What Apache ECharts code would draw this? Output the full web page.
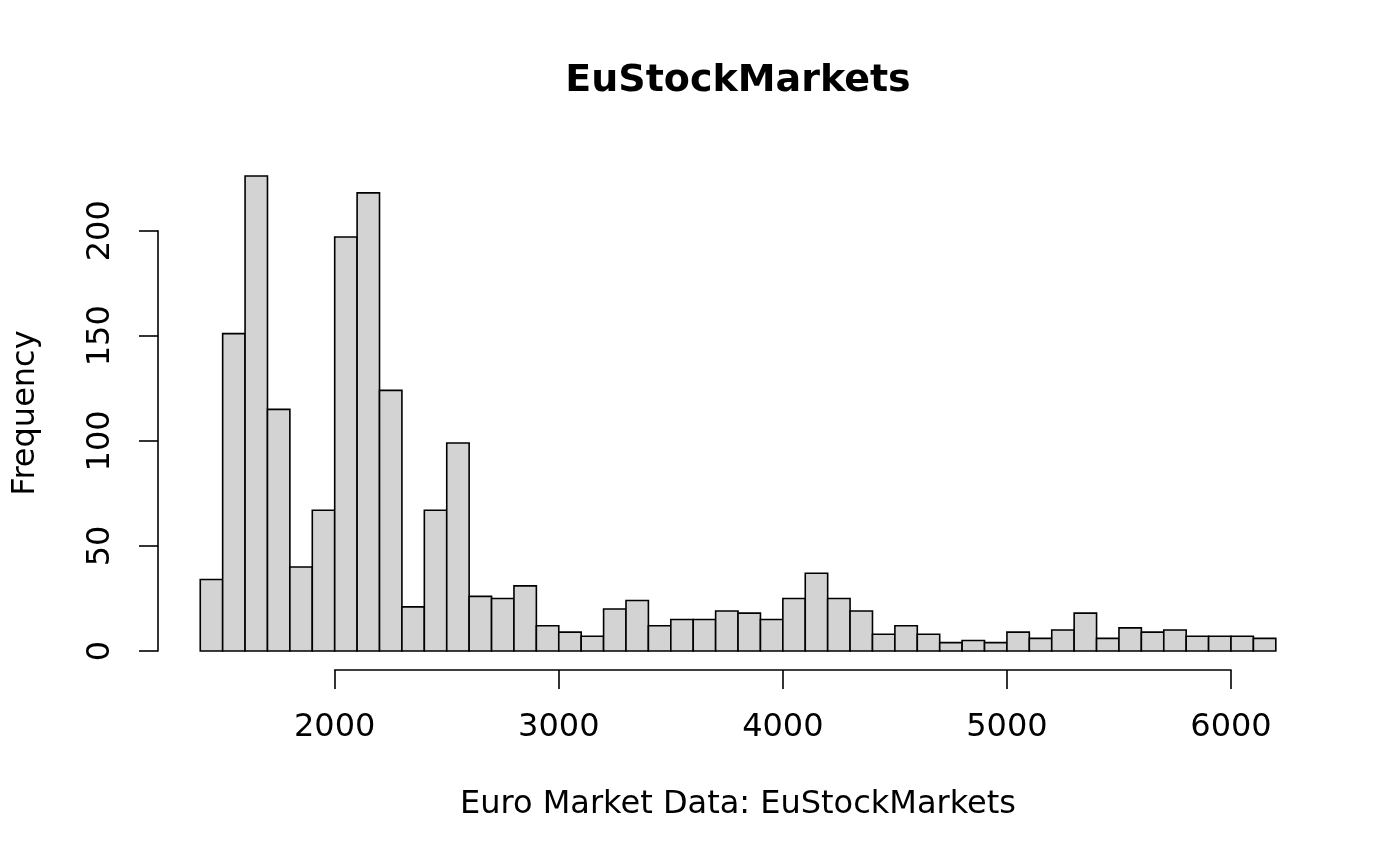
<!DOCTYPE html>
<html>
<head>
<meta charset="utf-8">
<script src="https://cdn.jsdelivr.net/npm/echarts@6/dist/echarts.min.js"></script>
<style>
html,body{margin:0;padding:0;background:#fff;}
#chart{width:1400px;height:866px;}
</style>
</head>
<body>
<div id="chart"></div>
<script>
// Histogram bins (left edges), width 100
var binStarts = [1400,1500,1600,1700,1800,1900,2000,2100,2200,2300,2400,2500,
                 2600,2700,2800,2900,3000,3100,3200,3300,3400,3500,3600,3700,
                 3800,3900,4000,4100,4200,4300,4400,4500,4600,4700,4800,4900,
                 5000,5100,5200,5300,5400,5500,5600,5700,5800,5900,6000,6100];
var binWidth = 100;
var counts = [34,151,226,115,40,67,197,218,124,21,67,99,
              26,25,31,12,9,7,20,24,12,15,15,19,
              18,15,25,37,25,19,8,12,8,4,5,4,
              9,6,10,18,6,11,9,10,7,7,7,6];
var xTicks = [2000,3000,4000,5000,6000];
var yTicks = [0,50,100,150,200];
var titleText = 'EuStockMarkets';
var xLabelText = 'Euro Market Data: EuStockMarkets';
var yLabelText = 'Frequency';

var data = binStarts.map(function(s,i){ return [s, s+binWidth, counts[i]]; });

var FONT = '"DejaVu Sans", "Liberation Sans", sans-serif';
var chart = echarts.init(document.getElementById('chart'), null, {renderer:'canvas'});
chart.setOption({
  backgroundColor:'#ffffff',
  animation:false,
  grid:{left:334.7, width:896.3, top:230.7, height:420.3, outerBoundsMode:'none', containLabel:false},
  xAxis:{
    type:'value', min:xTicks[0], max:xTicks[xTicks.length-1], interval:1000,
    offset:19,
    axisLine:{show:true, onZero:false, lineStyle:{color:'#000', width:1.6}},
    axisTick:{show:true, length:19, inside:false, lineStyle:{color:'#000', width:1.6}},
    axisLabel:{show:true, color:'#000', fontSize:32, fontFamily:FONT, margin:42,
      formatter:function(v){ return String(v); }},
    splitLine:{show:false}
  },
  yAxis:{
    type:'value', min:yTicks[0], max:yTicks[yTicks.length-1], interval:50,
    offset:176.7,
    axisLine:{show:true, onZero:false, lineStyle:{color:'#000', width:1.6}},
    axisTick:{show:true, length:19, inside:false, lineStyle:{color:'#000', width:1.6}},
    axisLabel:{show:true, color:'#000', fontSize:32, fontFamily:FONT, margin:41, rotate:90},
    splitLine:{show:false}
  },
  series:[{
    type:'custom',
    clip:false,
    data:data,
    encode:{x:[0,1], y:2},
    renderItem:function(params, api){
      var x0 = api.value(0), x1 = api.value(1), y = api.value(2);
      var p0 = api.coord([x0, y]);
      var p1 = api.coord([x1, 0]);
      return {
        type:'rect',
        shape:{x:p0[0], y:p0[1], width:p1[0]-p0[0], height:p1[1]-p0[1]},
        style:{fill:'#d3d3d3', stroke:'#000000', lineWidth:1.6}
      };
    }
  }],
  graphic:[
    {type:'text', x:738, y:81, style:{text:titleText, font:'bold 38px '+FONT, fill:'#000', textAlign:'center', textVerticalAlign:'middle'}},
    {type:'text', x:738, y:805, style:{text:xLabelText, font:'32px '+FONT, fill:'#000', textAlign:'center', textVerticalAlign:'middle'}},
    {type:'text', x:26, y:413, rotation:Math.PI/2, style:{text:yLabelText, font:'32px '+FONT, fill:'#000', textAlign:'center', textVerticalAlign:'middle'}}
  ]
});
</script>
</body>
</html>
